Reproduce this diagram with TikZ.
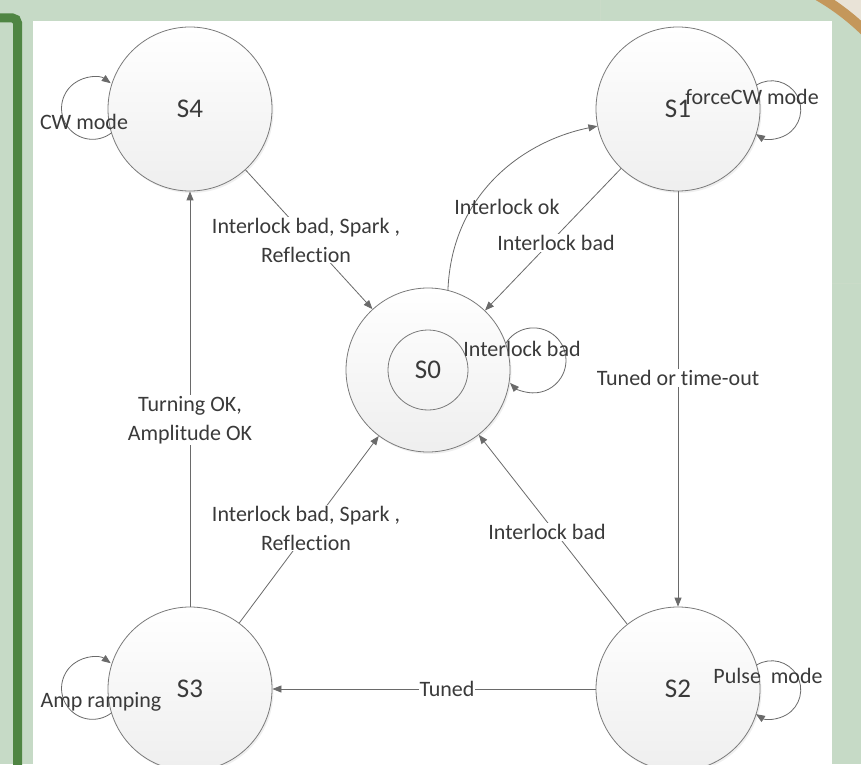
\documentclass[tikz,border=0pt]{standalone}
\usepackage{fontspec}
\setmainfont{Carlito}[Ligatures=NoCommon]
\usetikzlibrary{arrows.meta,shadows}
\definecolor{bggreen}{HTML}{C6DAC6}
\definecolor{framegreen}{HTML}{4F8543}
\definecolor{beigec}{HTML}{E9E3D7}
\definecolor{orangearc}{HTML}{C4975B}
\definecolor{txt}{HTML}{3A3A3A}
\definecolor{ln}{HTML}{6A6A6A}
\definecolor{circ}{HTML}{7A7A7A}
\begin{document}
\begin{tikzpicture}[x=1pt,y=1pt,
  state/.style={circle, draw=circ, line width=0.8pt, minimum size=164pt, inner sep=0pt,
    top color=white, bottom color=gray!13, font=\fontsize{27}{32}\selectfont, text=txt,
    drop shadow={shadow xshift=1.5pt, shadow yshift=-2pt, opacity=0.12}},
  innerstate/.style={circle, draw=circ, line width=0.8pt, minimum size=80pt, inner sep=0pt,
    font=\fontsize{27}{32}\selectfont, text=txt},
  edge/.style={draw=ln, line width=0.8pt, -{Triangle[length=9pt,width=7pt]}},
  lbl/.style={font=\fontsize{22}{29}\selectfont, text=txt, align=center, inner sep=1pt},
  wlbl/.style={lbl, fill=white}]
\useasboundingbox (0,0) rectangle (861,764);
\clip (0,0) rectangle (861,764);
% background
\fill[bggreen] (0,0) rectangle (861,764);
\begin{scope}
  \clip (600,480) rectangle (861,764);
  \fill[beigec, even odd rule] (600,480) rectangle (861,764) (700,564) circle[radius=236];
\end{scope}
\draw[orangearc, line width=10pt] (700,564) ++(40:236) arc[start angle=40, end angle=80, radius=236];
\fill[white] (33,0) rectangle (832,743);
\draw[framegreen, line width=9pt, rounded corners=5pt] (-10,746) -- (17.5,746) -- (17.5,-10);
% states
\node[state] (s4) at (190,655) {S4};
\node[state] (s1) at (678,655) {S1};
\node[state] (s0) at (428,394) {};
\node[innerstate] (s0in) at (428,394) {S0};
\node[state] (s3) at (190,75) {S3};
\node[state] (s2) at (678,75) {S2};
% transitions
\draw[edge] (s4) -- (s0);
\draw[edge] (s1) -- (s0);
\draw[edge] (s3) -- (s0);
\draw[edge] (s2) -- (s0);
\draw[edge] (s1) -- (s2);
\draw[edge] (s2) -- (s3);
\draw[edge] (s3) -- (s4);
\draw[edge] (s0.76) .. controls +(4,100) and +(-70,-14) .. (s1.192);
% self loops
\draw[edge] (s4.197) arc[start angle=-53, end angle=-306, radius=31];
\draw[edge] (s3.197) arc[start angle=-53, end angle=-306, radius=31];
\draw[edge] (s1.17) arc[start angle=121, end angle=-123, radius=29];
\draw[edge] (s2.17) arc[start angle=121, end angle=-123, radius=29];
\draw[edge] (s0.19) arc[start angle=148, end angle=-136, radius=32.5];
% labels
\node[wlbl] (l40) at (306,524) {Interlock bad, Spark ,\\Reflection};
\node[wlbl] (l10) at (556,521) {Interlock bad};
\node[lbl] (l01) at (507,557) {Interlock ok};
\node[wlbl] (l12) at (678,386) {Tuned or time-out};
\node[wlbl] (l23) at (447,75) {Tuned};
\node[wlbl] (l34) at (190,344) {Turning OK,\\Amplitude OK};
\node[wlbl] (l30) at (306,236) {Interlock bad, Spark ,\\Reflection};
\node[wlbl] (l20) at (547,232) {Interlock bad};
\node[lbl] (ll4) at (84,642) {CW mode};
\node[lbl] (ll1) at (752,667) {forceCW mode};
\node[lbl] (ll0) at (522,415) {Interlock bad};
\node[lbl] (ll3) at (101,62) {Amp ramping};
\node[lbl] (ll2) at (768,88) {Pulse\ \ mode};
\end{tikzpicture}
\end{document}
